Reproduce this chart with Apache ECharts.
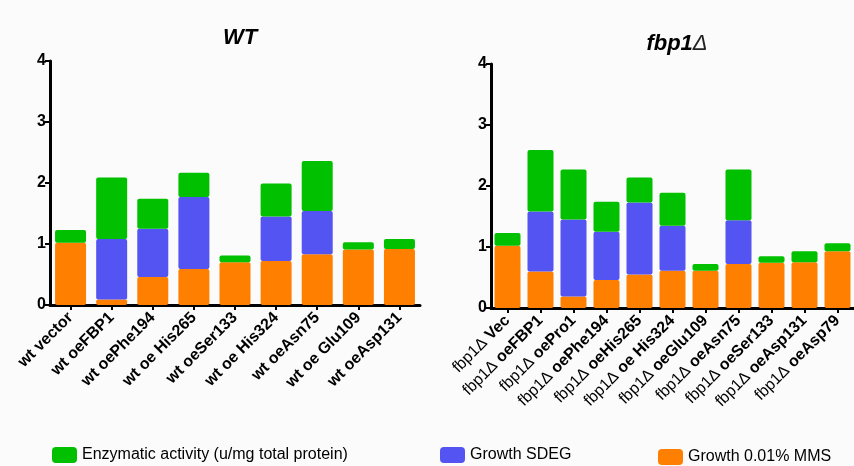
<!DOCTYPE html>
<html><head><meta charset="utf-8">
<script src="https://cdn.jsdelivr.net/npm/echarts@6/dist/echarts.min.js"></script>
<style>html,body{margin:0;padding:0;background:#fbfbfb}#c{width:854px;height:466px}</style>
</head><body><div id="c"></div>
<script>
const wtCategories = ['wt vector','wt oeFBP1','wt oePhe194','wt oe His265','wt oeSer133','wt oe His324','wt oeAsn75','wt oe Glu109','wt oeAsp131'];
const wtMMS    = [1.02,0.09,0.46,0.59,0.70,0.72,0.83,0.91,0.92];
const wtSDEG   = [0,0.99,0.79,1.18,0,0.73,0.71,0,0];
const wtEnzyme = [0.21,1.01,0.49,0.40,0.11,0.54,0.82,0.12,0.16];

const fbpCategories = ['fbp1Δ Vec','fbp1Δ oeFBP1','fbp1Δ oePro1','fbp1Δ oePhe194','fbp1Δ oeHis265','fbp1Δ oe His324','fbp1Δ oeGlu109','fbp1Δ oeAsn75','fbp1Δ oeSer133','fbp1Δ oeAsp131','fbp1Δ oeAsp79'];
const fbpMMS    = [1.02,0.60,0.19,0.46,0.55,0.61,0.61,0.72,0.74,0.75,0.93];
const fbpSDEG   = [0,0.98,1.26,0.79,1.18,0.74,0,0.72,0,0,0];
const fbpEnzyme = [0.21,1.01,0.82,0.49,0.41,0.54,0.11,0.83,0.11,0.18,0.13];

const yTicks = [0,1,2,3,4];
const seriesNames = ['Enzymatic activity (u/mg total protein)','Growth SDEG','Growth 0.01% MMS'];
const colors = {enz:'#00c000', sdeg:'#5454f2', mms:'#ff8000'};

const FONT = 'Liberation Sans, Arial, sans-serif';
const chart = echarts.init(document.getElementById('c'));

function yAxis(gi){
  return {type:'value', gridIndex:gi, min:yTicks[0], max:yTicks[yTicks.length-1], interval:1,
    axisLine:{show:true, lineStyle:{color:'#000', width:3}},
    axisTick:{show:true, length:5, lineStyle:{color:'#000', width:2}},
    splitLine:{show:false},
    axisLabel:{color:'#000', fontFamily:FONT, fontWeight:'bold', fontSize:16, margin:4}};
}
function xAxis(gi, cats, rich, rot){
  return {type:'category', gridIndex:gi, data:cats,
    axisLine:{show:true, lineStyle:{color:'#000', width:3}},
    axisTick:{show:true, alignWithLabel:true, length:5, lineStyle:{color:'#000', width:2}},
    axisLabel:{interval:0, rotate:rot, color:'#000', fontFamily:FONT, fontWeight:'bold', fontSize:16, margin:10,
      formatter: rich ? function(v){const i=v.indexOf(' ');return '{a|'+v.slice(0,i)+'} {b|'+v.slice(i+1)+'}';} : null,
      rich: rich ? {a:{fontFamily:FONT, fontWeight:'normal', fontSize:16, color:'#000'}, b:{fontFamily:FONT, fontWeight:'bold', fontSize:16, color:'#000'}} : undefined}};
}
function bars(gi, mms, sdeg, enz, bw){
  const common = {type:'bar', stack:'s'+gi, xAxisIndex:gi, yAxisIndex:gi, barWidth:bw};
  return [
    Object.assign({}, common, {name:seriesNames[2], data:mms, itemStyle:{color:colors.mms, borderRadius:2}}),
    Object.assign({}, common, {name:seriesNames[1], data:sdeg, itemStyle:{color:colors.sdeg, borderRadius:2}}),
    Object.assign({}, common, {name:seriesNames[0], data:enz, itemStyle:{color:colors.enz, borderRadius:2}})
  ];
}
function legend(name, left, top){
  return {data:[name], left:left, top:top, itemWidth:25, itemHeight:16, itemGap:8,
    icon:'roundRect', textStyle:{fontFamily:FONT, fontSize:16, color:'#000'}, selectedMode:false};
}

chart.setOption({
  backgroundColor:'#fbfbfb',
  animation:false,
  title:[
    {text:'WT', left:235, top:22, textAlign:'center', textStyle:{fontFamily:FONT, fontSize:22, fontWeight:'bold', fontStyle:'italic', color:'#000'}},
    {text:'{a|fbp1}{b|Δ}', left:672, top:28, textAlign:'center', textStyle:{rich:{
      a:{fontFamily:FONT, fontSize:22, fontWeight:'bold', fontStyle:'italic', color:'#000'},
      b:{fontFamily:FONT, fontSize:22, fontWeight:'normal', fontStyle:'italic', color:'#222'}}}}
  ],
  legend:[legend(seriesNames[0], 47, 442), legend(seriesNames[1], 435, 442), legend(seriesNames[2], 653, 444)],
  grid:[
    {left:50, right:434, top:61, bottom:161},
    {left:491, right:-4, top:64, bottom:158}
  ],
  xAxis:[xAxis(0, wtCategories, false, 45), xAxis(1, fbpCategories, true, 45)],
  yAxis:[yAxis(0), yAxis(1)],
  series:[].concat(bars(0, wtMMS, wtSDEG, wtEnzyme, 31), bars(1, fbpMMS, fbpSDEG, fbpEnzyme, 26))
});
</script></body></html>
